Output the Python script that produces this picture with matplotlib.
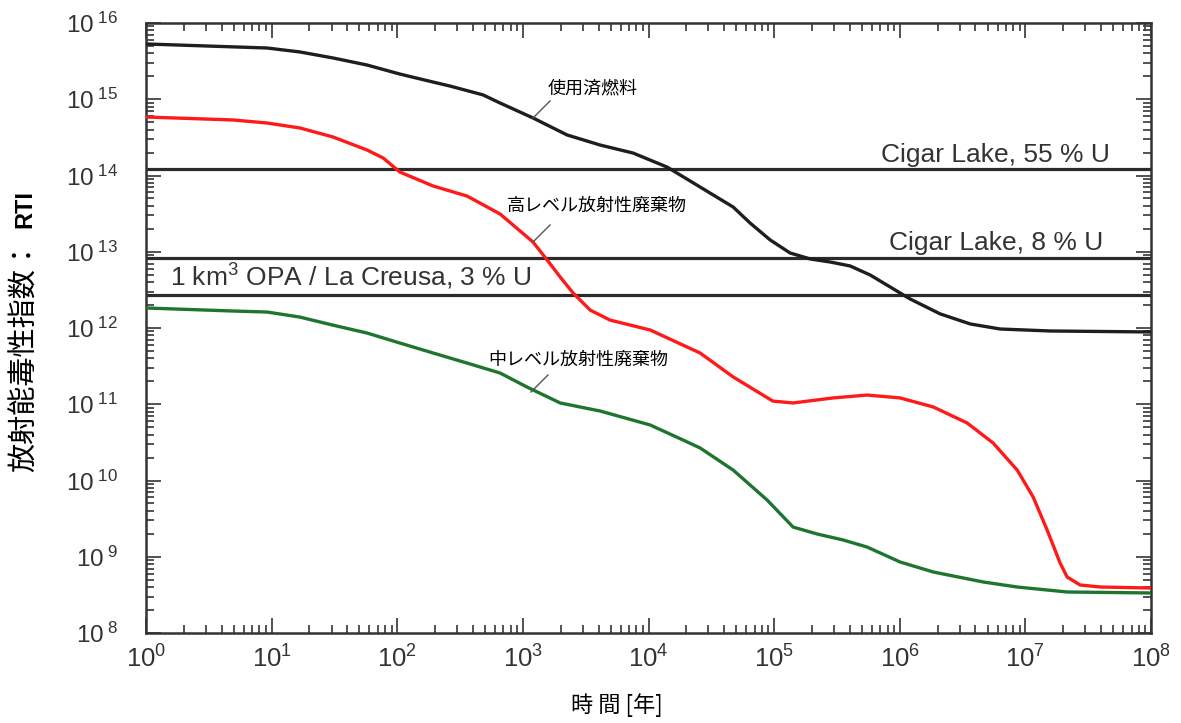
import numpy as np
import matplotlib
matplotlib.use("Agg")
import matplotlib.pyplot as plt
from matplotlib.ticker import FixedLocator, LogLocator, FuncFormatter, NullFormatter

plt.rcParams['font.family'] = ['Liberation Sans', 'Noto Sans CJK JP', 'DejaVu Sans']
plt.rcParams['mathtext.fontset'] = 'custom'
plt.rcParams['mathtext.rm'] = 'Liberation Sans'
plt.rcParams['mathtext.it'] = 'Liberation Sans'
plt.rcParams['mathtext.bf'] = 'Liberation Sans:bold'

# --- data: time [years] and radiotoxicity index ---
t_spent = [1, 9.2, 16.8, 30.8, 57.5, 105, 193, 263, 482, 658, 1205, 2250,
           4120, 7540, 14060, 25750, 47200, 64400, 92900, 1.34e5, 1.94e5,
           2.79e5, 4.03e5, 5.81e5, 8.39e5, 1.21e6, 2.10e6, 3.64e6, 6.30e6,
           1.57e7, 1e8]
rti_spent = [5.31e15, 4.70e15, 4.17e15, 3.48e15, 2.81e15, 2.14e15, 1.68e15,
             1.49e15, 1.14e15, 8.93e14, 5.68e14, 3.40e14, 2.51e14, 1.97e14,
             1.29e14, 7.06e13, 3.86e13, 2.38e13, 1.43e13, 9.63e12, 8.04e12,
             7.34e12, 6.51e12, 4.96e12, 3.45e12, 2.40e12, 1.53e12, 1.13e12,
             9.70e11, 9.14e11, 8.87e11]

t_hlw = [1, 4.93, 9.2, 16.8, 30.8, 57.5, 77.1, 105, 193, 359, 658, 1205, 1560,
         1980, 2510, 3430, 4940, 10300, 25750, 47200, 97700, 1.416e5, 2.95e5,
         5.5e5, 1.007e6, 1.85e6, 3.44e6, 5.54e6, 8.61e6, 1.153e7, 1.49e7,
         1.89e7, 2.15e7, 2.73e7, 3.94e7, 1e8]
rti_hlw = [5.85e14, 5.35e14, 4.88e14, 4.20e14, 3.20e14, 2.16e14, 1.70e14,
           1.11e14, 7.28e13, 5.38e13, 3.13e13, 1.34e13, 7.80e12, 4.67e12,
           2.88e12, 1.72e12, 1.27e12, 9.42e11, 4.70e11, 2.28e11, 1.10e11,
           1.04e11, 1.21e11, 1.32e11, 1.21e11, 9.21e10, 5.68e10, 3.10e10,
           1.37e10, 6.08e9, 2.24e9, 8.28e8, 5.42e8, 4.26e8, 4.01e8, 3.89e8]

t_ilw = [1, 4.93, 9.2, 16.8, 30.8, 57.5, 105, 193, 359, 658, 1080, 1980, 4120,
         10300, 19560, 25750, 47200, 87900, 1.416e5, 2.198e5, 3.54e5, 5.5e5,
         1.007e6, 1.85e6, 4.61e6, 8.61e6, 2.15e7, 1e8]
rti_ilw = [1.83e12, 1.67e12, 1.62e12, 1.39e12, 1.09e12, 8.59e11, 6.35e11,
           4.70e11, 3.47e11, 2.57e11, 1.68e11, 1.04e11, 8.15e10, 5.35e10,
           3.30e10, 2.67e10, 1.37e10, 5.55e9, 2.45e9, 1.99e9, 1.66e9, 1.34e9,
           8.53e8, 6.31e8, 4.67e8, 4.01e8, 3.45e8, 3.35e8]

# natural-analogue reference levels
ref_values = [1.2e14, 8.3e12, 2.7e12]
ref_labels = ["Cigar Lake, 55 % U", "Cigar Lake, 8 % U",
              r"1 km$^{3}$ OPA / La Creusa, 3 % U"]

curve_labels = ["使用済燃料", "高レベル放射性廃棄物", "中レベル放射性廃棄物"]

W, H = 1181, 723
X0, X1, Y0, Y1 = 146, 1151, 633, 23          # axes box in pixels
DEC_X = (X1 - X0) / 8.0
DEC_Y = (Y0 - Y1) / 8.0


def px2data(px, py):
    return 10 ** ((px - X0) / DEC_X), 10 ** (8 + (Y0 - py) / DEC_Y)


fig = plt.figure(figsize=(W / 100, H / 100), dpi=100)
ax = fig.add_axes([X0 / W, 1 - Y0 / H, (X1 - X0) / W, (Y0 - Y1) / H])
ax.set_xscale('log')
ax.set_yscale('log')
ax.set_xlim(1, 1e8)
ax.set_ylim(1e8, 1e16)

for v in ref_values:
    ax.axhline(v, color='#2b2b2b', lw=2.3, zorder=2)

kw = dict(lw=2.4, zorder=3, solid_joinstyle='round', solid_capstyle='round')
ax.plot(t_spent, rti_spent, color='#1e1e1e', **kw)
ax.plot(t_hlw, rti_hlw, color='#ff1a1a', **kw)
ax.plot(t_ilw, rti_ilw, color='#1f7530', **kw)

# reference level captions
txt_kw = dict(fontsize=19, color='#333333', family=['Liberation Sans'])
ax.text(*px2data(1110, 162), ref_labels[0], ha='right', va='baseline', **txt_kw)
ax.text(*px2data(1103, 250), ref_labels[1], ha='right', va='baseline', **txt_kw)
ax.text(*px2data(170, 286), ref_labels[2], ha='left', va='baseline', **txt_kw)

# curve captions with leader lines
jp = ['Noto Sans CJK JP']
for (cx, cy), lab in zip([(593, 88), (597, 206), (578, 360)], curve_labels):
    ax.text(*px2data(cx, cy), lab, ha='center', va='center', fontsize=13,
            family=jp, zorder=5)

for (x0, y0), (x1, y1) in [((533, 118), (550, 101)),
                           ((533, 242), (550, 225)),
                           ((531, 392), (548, 375))]:
    a = px2data(x0, y0)
    b = px2data(x1, y1)
    ax.plot([a[0], b[0]], [a[1], b[1]], color='#555555', lw=1.0, zorder=4)

# axes styling
for s in ax.spines.values():
    s.set_color('#333333')
    s.set_linewidth(1.8)

ax.xaxis.set_major_locator(FixedLocator([10.0 ** k for k in range(0, 9)]))
ax.yaxis.set_major_locator(FixedLocator([10.0 ** k for k in range(8, 17)]))
ax.xaxis.set_minor_locator(LogLocator(base=10, subs=np.arange(2, 10), numticks=20))
ax.yaxis.set_minor_locator(LogLocator(base=10, subs=np.arange(2, 10), numticks=20))
ax.xaxis.set_minor_formatter(NullFormatter())
ax.yaxis.set_minor_formatter(NullFormatter())
ax.xaxis.set_major_formatter(FuncFormatter(
    lambda v, p: r'$\mathregular{10^{%d}}$' % round(np.log10(v))))
ax.yaxis.set_major_formatter(FuncFormatter(
    lambda v, p: r'$\mathregular{10^{\ %d}}$' % round(np.log10(v))))

ax.tick_params(which='both', direction='in', top=True, right=True,
               color='#444444', width=1.3, labelcolor='#333333')
ax.tick_params(axis='x', labelsize=18.5)
ax.tick_params(axis='y', labelsize=17.5)
ax.tick_params(which='major', length=11)
ax.tick_params(which='minor', length=6)
ax.tick_params(axis='x', which='major', pad=9)
ax.tick_params(axis='y', which='major', pad=20)

# axis titles
fig.text(617 / W, 1 - 705 / H, "時 間 [年]", ha='center', va='center',
         fontsize=16, family=jp)
fig.text(25 / W, 1 - 472 / H, "放射能毒性指数：", rotation=90, ha='center',
         va='bottom', fontsize=21, family=jp)
fig.text(25 / W, 1 - 228 / H, "RTI", rotation=90, ha='center', va='bottom',
         fontsize=17, fontweight='bold', family=['Liberation Sans'])

fig.savefig("out.png", dpi=100)
